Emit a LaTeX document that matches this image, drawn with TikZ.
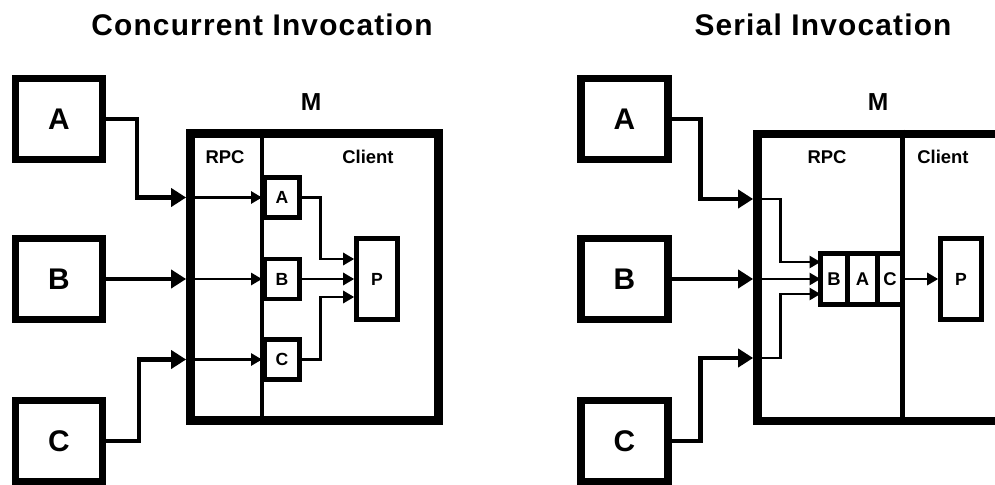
\documentclass[tikz,border=0pt]{standalone}
\usepackage{fontspec}
\setmainfont{Liberation Sans}
\newfontfamily\titlefont{Liberation Sans}[LetterSpace=4]
\usetikzlibrary{arrows.meta,calc,positioning}

\begin{document}
\begin{tikzpicture}[x=0.02cm, y=-0.02cm,
    caller/.style={draw, line width=4pt, minimum width=1.74cm, minimum height=1.62cm, font=\fontsize{17}{20}\selectfont\bfseries},
    host/.style={draw, line width=5pt, minimum width=4.96cm, minimum height=5.74cm},
    slot/.style={draw, line width=2.8pt, minimum width=0.70cm, minimum height=0.80cm, inner sep=0pt, font=\fontsize{10}{12}\selectfont\bfseries},
    proc/.style={draw, line width=2.6pt, minimum width=0.82cm, minimum height=1.62cm, font=\fontsize{10}{12}\selectfont\bfseries},
    cell/.style={draw, line width=2.6pt, outer sep=0pt, minimum height=1.02cm, inner sep=0pt, font=\fontsize{10.5}{12}\selectfont\bfseries},
    wire/.style={line width=2.8pt, -{Triangle[length=0.3cm, width=0.36cm]}},
    thinwire/.style={line width=1.7pt, -{Triangle[length=0.22cm, width=0.24cm]}},
    divider/.style={line width=2.6pt},
    lbl/.style={font=\fontsize{10.5}{12}\selectfont\bfseries},
    mlbl/.style={font=\fontsize{14}{16}\selectfont\bfseries},
    title/.style={font=\titlefont\fontsize{17}{20}\selectfont\bfseries}]
    \useasboundingbox (0,0) rectangle (995,484);
    \clip (0,0) rectangle (995,484);

    % concurrent invocation
    \node[title] (t1) at (262,25) {Concurrent Invocation};
    \node[caller] (ca) at (59,119) {A};
    \node[caller] (cb) at (59,279) {B};
    \node[caller] (cc) at (59,441) {C};
    \node[host] (m1) at (314.5,277) {};
    \node[mlbl] (m1lbl) at (311,102) {M};
    \node[slot] (ia) at (282,197.5) {A};
    \node[slot] (ib) at (282,279) {B};
    \node[slot] (ic) at (282,359.5) {C};
    \node[proc] (p1) at (377,279) {P};
    \draw[divider] (m1.north -| ia.west) -- (m1.south -| ia.west);
    \node[lbl] (rpc1) at (225,157) {RPC};
    \node[lbl] (cl1) at (368,157) {Client};

    \draw[wire] (ca.east) -- ++(31,0) |- (m1.west |- ia.west);
    \draw[wire] (cb.east) -- (m1.west |- cb.east);
    \draw[wire] (cc.east) -- ++(33,0) |- (m1.west |- ic.west);
    \draw[thinwire] (m1.west |- ia.west) -- (ia.west);
    \draw[thinwire] (m1.west |- ib.west) -- (ib.west);
    \draw[thinwire] (m1.west |- ic.west) -- (ic.west);
    \draw[thinwire] (ia.east) -- ++(19,0) |- ($(p1.west)+(0,-20)$);
    \draw[thinwire] (ib.east) -- (p1.west);
    \draw[thinwire] (ic.east) -- ++(19,0) |- ($(p1.west)+(0,18)$);

    % serial invocation
    \node[title] (t2) at (823,25) {Serial Invocation};
    \node[caller] (da) at (624.5,119) {A};
    \node[caller] (db) at (624.5,279) {B};
    \node[caller] (dc) at (624.5,441) {C};
    \node[host] (m2) at (881.5,277.5) {};
    \node[mlbl] (m2lbl) at (878,102) {M};
    \node[cell, minimum width=0.54cm] (qb) at (834,279) {B};
    \node[cell, minimum width=0.60cm, right=0pt of qb] (qa) {A};
    \node[cell, minimum width=0.50cm, right=0pt of qa] (qc) {C};
    \node[proc] (p2) at (961,279) {P};
    \draw[divider] (m2.north -| qc.east) -- (m2.south -| qc.east);
    \node[lbl] (rpc2) at (827,157) {RPC};
    \node[lbl] (cl2) at (943,157) {Client};

    \coordinate (ga) at ($(m2.west)+(0,-78.5)$);
    \coordinate (gb) at (m2.west |- qb.west);
    \coordinate (gc) at ($(m2.west)+(0,80.5)$);
    \draw[wire] (da.east) -- ++(29,0) |- (ga);
    \draw[wire] (db.east) -- (gb);
    \draw[wire] (dc.east) -- ++(29,0) |- (gc);
    \draw[thinwire] (ga) -- ++(27,0) |- ($(qb.west)+(0,-17)$);
    \draw[thinwire] (gb) -- (qb.west);
    \draw[thinwire] (gc) -- ++(27,0) |- ($(qb.west)+(0,15)$);
    \draw[thinwire] (qc.east) -- (p2.west);
\end{tikzpicture}
\end{document}
